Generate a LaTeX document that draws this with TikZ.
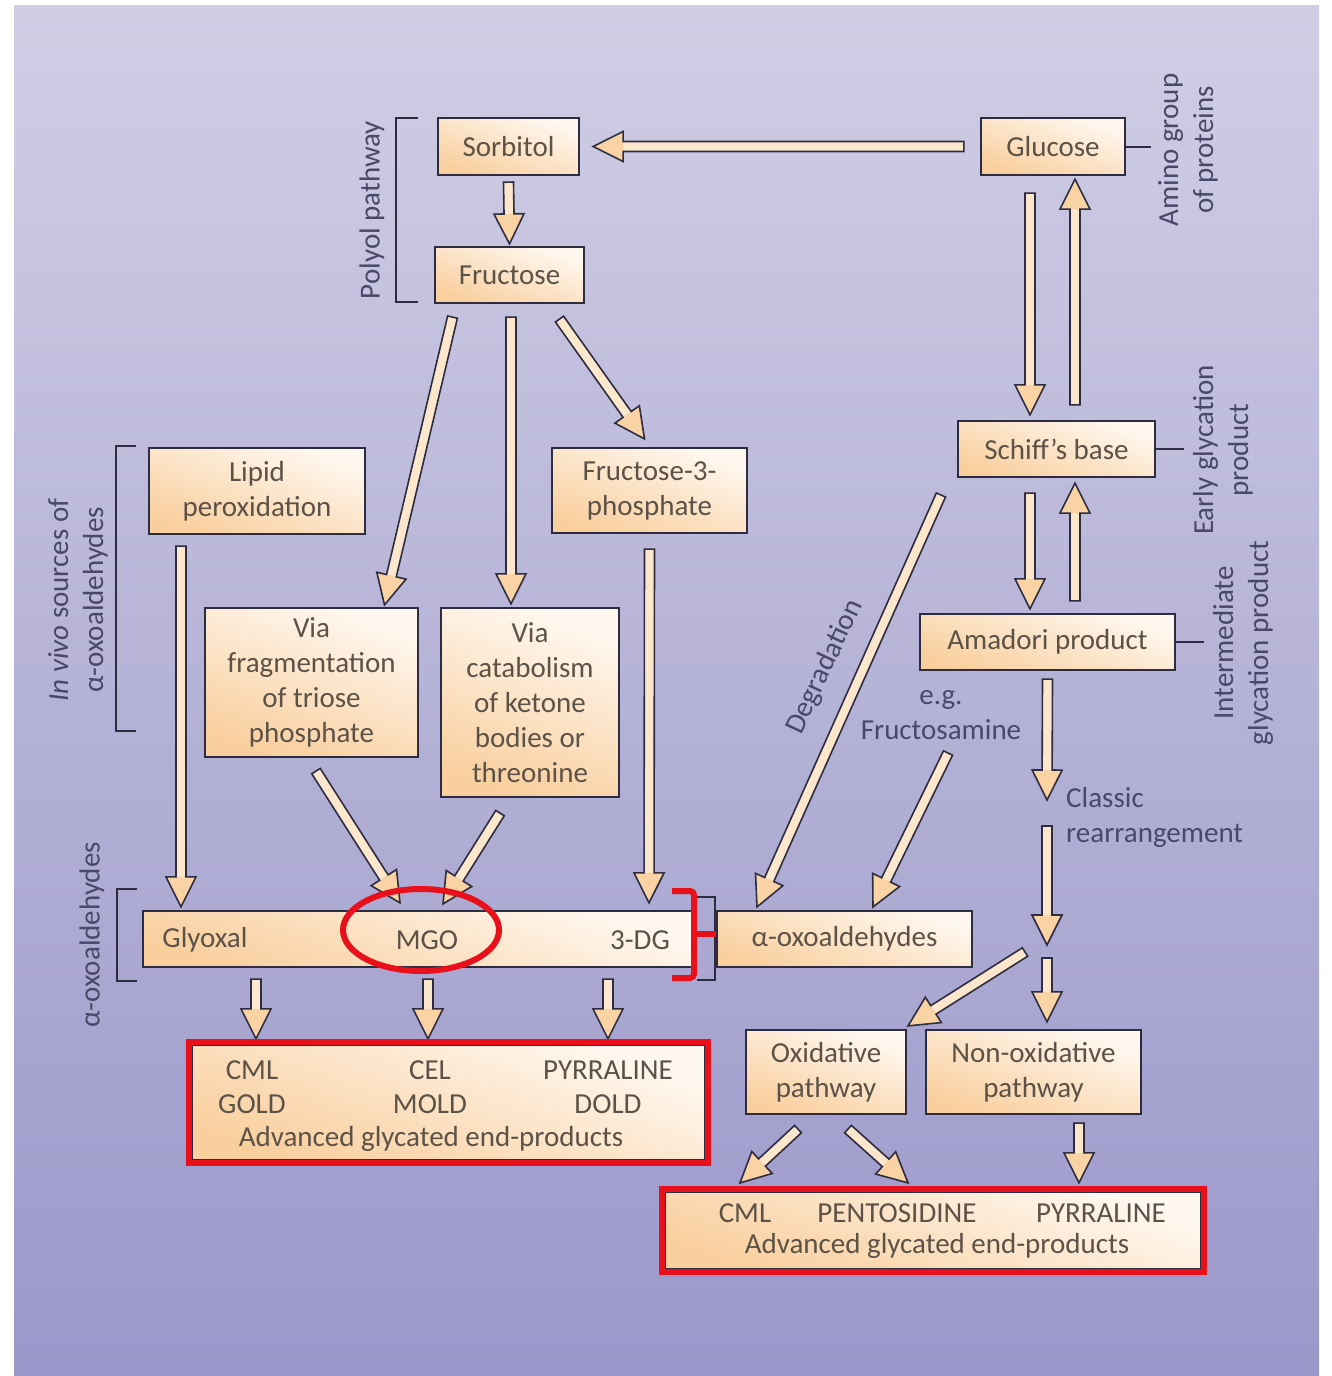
\documentclass[tikz,border=0pt]{standalone}
\usepackage{fontspec}
\setmainfont{Carlito}
\usetikzlibrary{calc,shapes.geometric}
\definecolor{bgtop}{HTML}{D0CEE5}
\definecolor{bgbot}{HTML}{9B97CA}
\definecolor{boxline}{HTML}{2E2C40}
\definecolor{boxtxt}{HTML}{5C5248}
\definecolor{labtxt}{HTML}{4A4868}
\definecolor{peach}{HTML}{F9CF9E}
\definecolor{cream}{HTML}{FFF8F1}
\definecolor{shaftfill}{HTML}{FCE6CC}
\definecolor{headfill}{HTML}{FAD3A4}
\definecolor{redmark}{HTML}{E8101A}
\tikzset{
  box/.style={draw=boxline, line width=2.2pt, shading=axis, top color=cream, bottom color=peach, shading angle=-20,
    text=boxtxt, align=center, inner sep=0pt, font=\fontsize{29}{35}\selectfont},
  lab/.style={text=labtxt, align=center, inner sep=0pt, font=\fontsize{29}{35}\selectfont},
  boxtext/.style={text=boxtxt, align=center, inner sep=0pt, font=\fontsize{29}{35}\selectfont},
  brk/.style={draw=boxline, line width=2pt},
  blk/.style={draw=boxline, line width=1.6pt, line join=miter},
  redm/.style={draw=redmark, line width=6pt},
}
\newcommand{\barrow}[2]{%
  \coordinate (ba) at #1;
  \coordinate (bb) at #2;
  \coordinate (bh) at ($(bb)!30pt!(ba)$);
  \fill[shaftfill] ($(ba)!5pt!90:(bb)$) -- ($(bh)!5pt!90:(bb)$) -- ($(bh)!5pt!-90:(bb)$) -- ($(ba)!5pt!-90:(bb)$) -- cycle;
  \fill[headfill] ($(bh)!15pt!90:(bb)$) -- (bb) -- ($(bh)!15pt!-90:(bb)$) -- cycle;
  \path[blk] ($(ba)!5pt!90:(bb)$) -- ($(bh)!5pt!90:(bb)$) -- ($(bh)!15pt!90:(bb)$) -- (bb)
    -- ($(bh)!15pt!-90:(bb)$) -- ($(bh)!5pt!-90:(bb)$) -- ($(ba)!5pt!-90:(bb)$) -- cycle;
}
\begin{document}
\begin{tikzpicture}[x=1pt,y=-1pt]
\useasboundingbox (0,0) rectangle (1332,1376);
\fill[white] (0,0) rectangle (1332,1376);
\shade[top color=bgtop, bottom color=bgbot] (14,5) rectangle (1319,1376);

% boxes
\node[box, minimum width=141pt, minimum height=57pt] (sorb) at (508.5,146.5) {Sorbitol};
\node[box, minimum width=149pt, minimum height=56pt] (fruc) at (509.5,275) {Fructose};
\node[box, minimum width=144pt, minimum height=57pt] (gluc) at (1053,146.5) {Glucose};
\node[box, minimum width=197pt, minimum height=56pt] (schiff) at (1056.5,449) {Schiff's base};
\node[box, minimum width=255pt, minimum height=56pt] (amad) at (1047.5,642) {Amadori product};
\node[box, minimum width=216pt, minimum height=86pt] (lipid) at (257,491) {Lipid\\peroxidation};
\node[box, minimum width=195pt, minimum height=85pt] (f3p) at (649.5,490.5) {Fructose-3-\\phosphate};
\node[box, minimum width=213pt, minimum height=149pt] (frag) at (311.5,682.5) {Via\\fragmentation\\of triose\\phosphate};
\node[box, minimum width=178pt, minimum height=189pt] (cat) at (530,702.5) {Via\\catabolism\\of ketone\\bodies or\\threonine};
\node[box, minimum width=550pt, minimum height=56pt] (bar) at (418,939) {};
\node[boxtext] (glyox) at (205,940) {Glyoxal};
\node[boxtext] (mgo) at (427,940) {MGO};
\node[boxtext] (dg) at (640,940) {3-DG};
\node[box, minimum width=255pt, minimum height=56pt] (aoxo) at (844.5,939) {α-oxoaldehydes};
\node[box, minimum width=160pt, minimum height=84pt] (oxid) at (826,1072) {Oxidative\\pathway};
\node[box, minimum width=215pt, minimum height=84pt] (nonox) at (1033.5,1072) {Non-oxidative\\pathway};
\node[box, minimum width=513pt, minimum height=115pt] (age1) at (448.5,1102.5) {};
\node[boxtext] (cml1) at (252,1070) {CML};
\node[boxtext] (cel) at (430,1070) {CEL};
\node[boxtext] (pyr1) at (608,1070) {PYRRALINE};
\node[boxtext] (gold) at (252,1104) {GOLD};
\node[boxtext] (mold) at (430,1104) {MOLD};
\node[boxtext] (dold) at (608,1104) {DOLD};
\node[boxtext] (agetxt1) at (431,1139) {Advanced glycated end-products};
\node[box, minimum width=536pt, minimum height=77pt] (age2) at (933,1230.5) {};
\node[boxtext] (cml2) at (745,1213) {CML};
\node[boxtext] (pento) at (897,1213) {PENTOSIDINE};
\node[boxtext] (pyr2) at (1101,1213) {PYRRALINE};
\node[boxtext] (agetxt2) at (937,1246) {Advanced glycated end-products};

% brackets
\draw[brk] (418,118) -- (396,118) -- (396,302) -- (418,302);
\draw[brk] (136,446) -- (116,446) -- (116,731) -- (136,731);
\draw[brk] (137,889) -- (117,889) -- (117,981) -- (137,981);
\draw[brk] (697,897) -- (715,897) -- (715,980) -- (697,980);
\draw[brk] (gluc.east) -- ++(25,0);
\draw[brk] (schiff.east) -- ++(28,0);
\draw[brk] (amad.east) -- ++(28,0);

% side labels
\node[lab, rotate=90] (polyol) at (372,210) {Polyol pathway};
\node[lab, rotate=90] (invivo) at (78,600) {\textit{In vivo} sources of\\α-oxoaldehydes};
\node[lab, rotate=90] (aoxolab) at (92,935) {α-oxoaldehydes};
\node[lab, rotate=90] (amino) at (1188,150) {Amino group\\of proteins};
\node[lab, rotate=90] (early) at (1223,450) {Early glycation\\product};
\node[lab, rotate=90] (inter) at (1243,643) {Intermediate\\glycation product};
\node[lab, rotate=65] (degr) at (825,667) {Degradation};
\node[lab] (fructam) at (941,715) {e.g.\\Fructosamine};
\node[lab, anchor=west, align=left] (classic) at (1066,817) {Classic\\rearrangement};

% free arrow ends
\coordinate (famstart) at (948,753);
\coordinate (cltop) at (1047,800);
\coordinate (clbot) at (1047,826);
\coordinate (clend) at (1047,945);
\coordinate (splitA) at (1047,958);
\coordinate (splitB) at (1025,952);

% arrows
\barrow{($(gluc.west)+(-16,0)$)}{($(sorb.east)+(13,0)$)}
\barrow{($(sorb.south)+(0,6)$)}{($(fruc.north)+(0,-2)$)}
\barrow{($(fruc.south)+(-57,13)$)}{($(frag.north)+(73,-2)$)}
\barrow{($(fruc.south)+(1.5,13)$)}{($(cat.north)+(-19,-3)$)}
\barrow{($(fruc.south)+(50,15)$)}{($(f3p.north)+(-5,-8)$)}
\barrow{($(gluc.south)+(-23,17)$)}{($(schiff.north)+(-26.5,-5)$)}
\barrow{($(schiff.north)+(18.5,-15)$)}{($(gluc.south)+(22,3)$)}
\barrow{($(schiff.south)+(-26.5,15)$)}{($(amad.north)+(-17.5,-4)$)}
\barrow{($(amad.north)+(27.5,-12)$)}{($(schiff.south)+(18.5,5)$)}
\barrow{($(lipid.south)+(-76,11)$)}{($(bar.north)+(-237,-3)$)}
\barrow{($(f3p.south)+(0,15)$)}{($(bar.north)+(231,-7)$)}
\barrow{($(frag.south)+(4.5,13)$)}{($(bar.north)+(-18,-7)$)}
\barrow{($(cat.south)+(-30,15)$)}{($(bar.north)+(25,-6)$)}
\barrow{($(schiff.west)+(-16,46)$)}{($(aoxo.north)+(-87.5,-3)$)}
\barrow{(famstart)}{($(aoxo.north)+(28.5,-3)$)}
\barrow{($(amad.south)+(0,8)$)}{(cltop)}
\barrow{(clbot)}{(clend)}
\barrow{(splitA)}{($(nonox.north)+(13.5,-7)$)}
\barrow{(splitB)}{($(oxid.north)+(82,-3)$)}
\barrow{($(bar.south)+(-162,11)$)}{($(age1.north)+(-192.5,-5)$)}
\barrow{($(bar.south)+(10,11)$)}{($(age1.north)+(-20.5,-5)$)}
\barrow{($(bar.south)+(190,11)$)}{($(age1.north)+(159.5,-5)$)}
\barrow{($(oxid.south)+(-28,14)$)}{($(age2.north)+(-193,-8)$)}
\barrow{($(oxid.south)+(22,14)$)}{($(age2.north)+(-25,-8)$)}
\barrow{($(nonox.south)+(45.5,8)$)}{($(age2.north)+(146,-8)$)}

% red markings
\draw[redm] (421,930) ellipse [x radius=78, y radius=41];
\draw[redm, rounded corners=4pt] (672,891) -- (694,891) -- (694,978) -- (672,978);
\draw[redm] (694,934) -- (716,934);
\draw[redm] (189,1042) rectangle (708,1163);
\draw[redm] (662,1189) rectangle (1204,1272);
\end{tikzpicture}
\end{document}
